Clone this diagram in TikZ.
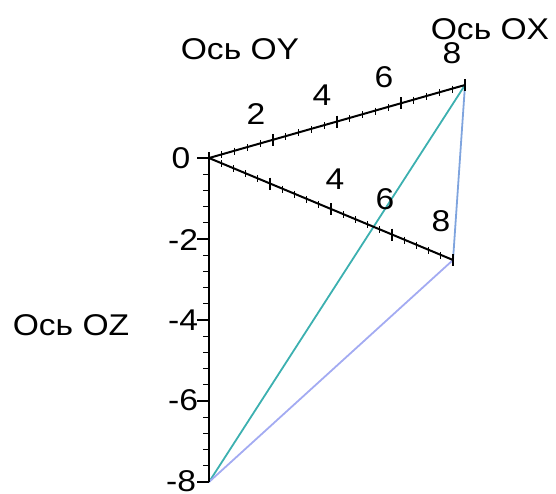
\documentclass[tikz,border=0pt]{standalone}
\usepackage{fontspec}
\setmainfont{Liberation Sans}[FakeStretch=1.12]
\usetikzlibrary{calc}
\definecolor{tealline}{HTML}{3CB0B0}
\definecolor{blueline}{HTML}{7FA4DE}
\definecolor{lavline}{HTML}{A3ABF2}
\begin{document}
\begin{tikzpicture}[x=1pt,y=-1pt,
  lab/.style={inner sep=0pt,font=\fontsize{30}{30}\selectfont},
  axisline/.style={line width=2pt,black},
  tickmark/.style={line width=1.3pt,black},
  edge/.style={line width=1.8pt}]
\useasboundingbox (0,0) rectangle (556,493);
\coordinate (O) at (209,158);
\coordinate (X) at (465,85);
\coordinate (Y) at (453,260);
\coordinate (Z) at (209,482);
% coloured edges
\draw[edge,tealline] (X) -- (Z);
\draw[edge,blueline] (X) -- (Y);
\draw[edge,lavline] (Y) -- (Z);
% axes
\draw[axisline] (O) -- (X);
\draw[axisline] (O) -- (Y);
\draw[axisline] (O) -- (Z);
% ticks on vertical axis (to the left)
\foreach \i in {0,...,20}{
  \pgfmathtruncatemacro{\m}{mod(\i,5)}
  \ifnum\m=0
    \draw[tickmark] ($(O)!\i/20!(Z)$) -- ++(-12,0);
  \else
    \draw[tickmark] ($(O)!\i/20!(Z)$) -- ++(-6,0);
  \fi
}
% ticks on oblique axes
\foreach \i in {0,...,20}{
  \pgfmathtruncatemacro{\m}{mod(\i,5)}
  \ifnum\m=0
    \draw[tickmark] ($(O)!\i/20!(X)$) ++(0,-6) -- ++(0,12);
    \draw[tickmark] ($(O)!\i/20!(Y)$) ++(0,-6) -- ++(0,12);
  \else
    \draw[tickmark] ($(O)!\i/20!(X)$) ++(0,-3) -- ++(0,7);
    \draw[tickmark] ($(O)!\i/20!(Y)$) ++(0,-3) -- ++(0,7);
  \fi
}
% vertical axis labels
\node[lab] (z0) at (181,158) {0};
\node[lab] (z2) at (183,240) {-2};
\node[lab] (z4) at (183,320) {-4};
\node[lab] (z6) at (183,400) {-6};
\node[lab] (z8) at (181,481) {-8};
% upper axis labels
\node[lab] (x2) at (256,114) {2};
\node[lab] (x4) at (322,95) {4};
\node[lab] (x6) at (384,77) {6};
\node[lab] (x8) at (452,53) {8};
% lower axis labels
\node[lab] (y4) at (335,179) {4};
\node[lab] (y6) at (385,199) {6};
\node[lab] (y8) at (441,221) {8};
% axis titles
\node[lab] (tx) at (490,29) {Ось OX};
\node[lab] (ty) at (240,49) {Ось OY};
\node[lab] (tz) at (71,325) {Ось OZ};
\end{tikzpicture}
\end{document}
